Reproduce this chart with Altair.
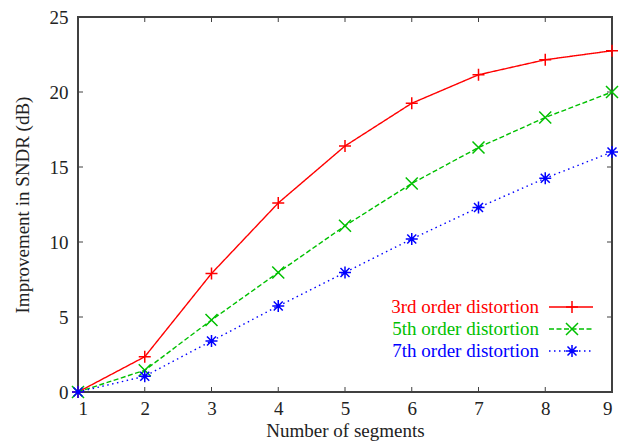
import altair as alt
import pandas as pd

segments = [1, 2, 3, 4, 5, 6, 7, 8, 9]
third = [0.0, 2.35, 7.9, 12.6, 16.4, 19.25, 21.15, 22.15, 22.75]
fifth = [0.0, 1.45, 4.8, 7.97, 11.08, 13.9, 16.3, 18.3, 20.0]
seventh = [0.0, 1.05, 3.4, 5.73, 7.97, 10.2, 12.3, 14.25, 16.0]
series_names = ["3rd order distortion", "5th order distortion", "7th order distortion"]
colors = ["#ff0000", "#00c000", "#0000ff"]
dashes = [[1, 0], [5, 2.5], [1.5, 3.5]]
shapes = [
    "M-1,0L1,0M0,-1L0,1",
    "M-1,-1L1,1M-1,1L1,-1",
    "M-1,0L1,0M0,-1L0,1M-0.75,-0.75L0.75,0.75M-0.75,0.75L0.75,-0.75",
]
x_ticks = [1, 2, 3, 4, 5, 6, 7, 8, 9]
y_ticks = [0, 5, 10, 15, 20, 25]

W, H = 534, 375
FONT = "Liberation Serif"
FS = 19

xs = alt.Scale(domain=[1, 9], nice=False, zero=False)
ys = alt.Scale(domain=[0, 25], nice=False)

layers = []
base_axes = alt.Chart(pd.DataFrame({"x": [1], "y": [0]})).mark_point(opacity=0).encode(
    x=alt.X("x:Q", scale=xs, title="Number of segments",
            axis=alt.Axis(values=x_ticks, ticks=False, domain=False, grid=False,
                          labelPadding=7, titlePadding=3, format="d")),
    y=alt.Y("y:Q", scale=ys, title="Improvement in SNDR (dB)",
            axis=alt.Axis(values=y_ticks, ticks=False, domain=False, grid=False,
                          labelPadding=10, titlePadding=17, format="d")),
)
layers.append(base_axes)

xt = pd.DataFrame({"x": x_ticks})
yt = pd.DataFrame({"y": y_ticks})
tick_color = "#404040"
layers.append(alt.Chart(xt).mark_rule(color=tick_color, strokeWidth=1).encode(
    x=alt.X("x:Q", scale=xs), y=alt.value(H - 5), y2=alt.value(H)))
layers.append(alt.Chart(xt).mark_rule(color=tick_color, strokeWidth=1).encode(
    x=alt.X("x:Q", scale=xs), y=alt.value(0), y2=alt.value(5)))
layers.append(alt.Chart(yt).mark_rule(color=tick_color, strokeWidth=1).encode(
    y=alt.Y("y:Q", scale=ys), x=alt.value(0), x2=alt.value(5)))
layers.append(alt.Chart(yt).mark_rule(color=tick_color, strokeWidth=1).encode(
    y=alt.Y("y:Q", scale=ys), x=alt.value(W - 5), x2=alt.value(W)))

legend_y = [290, 312, 334]
for vals, name, col, dsh, shp, ly in zip([third, fifth, seventh], series_names, colors, dashes, shapes, legend_y):
    df = pd.DataFrame({"x": segments, "y": vals})
    layers.append(alt.Chart(df).mark_line(color=col, strokeWidth=1.4, strokeDash=dsh).encode(
        x=alt.X("x:Q", scale=xs), y=alt.Y("y:Q", scale=ys)))
    layers.append(alt.Chart(df).mark_point(shape=shp, size=144, filled=False, color=col,
                                           strokeWidth=1.5, opacity=1).encode(
        x=alt.X("x:Q", scale=xs), y=alt.Y("y:Q", scale=ys)))
    ldf = pd.DataFrame({"label": [name]})
    layers.append(alt.Chart(ldf).mark_text(align="right", baseline="middle", font=FONT,
                                           fontSize=FS, color=col).encode(
        text="label:N", x=alt.value(461), y=alt.value(ly)))
    layers.append(alt.Chart(ldf).mark_rule(color=col, strokeWidth=1.4, strokeDash=dsh).encode(
        x=alt.value(471), x2=alt.value(515), y=alt.value(ly)))
    layers.append(alt.Chart(ldf).mark_point(shape=shp, size=144, filled=False, color=col,
                                            strokeWidth=1.5, opacity=1).encode(
        x=alt.value(494), y=alt.value(ly)))

chart = alt.layer(*layers).properties(
    width=W, height=H,
    autosize=alt.AutoSizeParams(type="none"),
    padding={"left": 70, "top": 9, "right": 14, "bottom": 49},
).configure_view(stroke="#404040", strokeWidth=2).configure_axis(
    labelFont=FONT, titleFont=FONT, labelFontSize=FS, titleFontSize=FS,
    labelColor="#222222", titleColor="#222222", titleFontWeight="normal",
)

chart.save("out.html", embed_options={"renderer": "svg", "actions": False})
